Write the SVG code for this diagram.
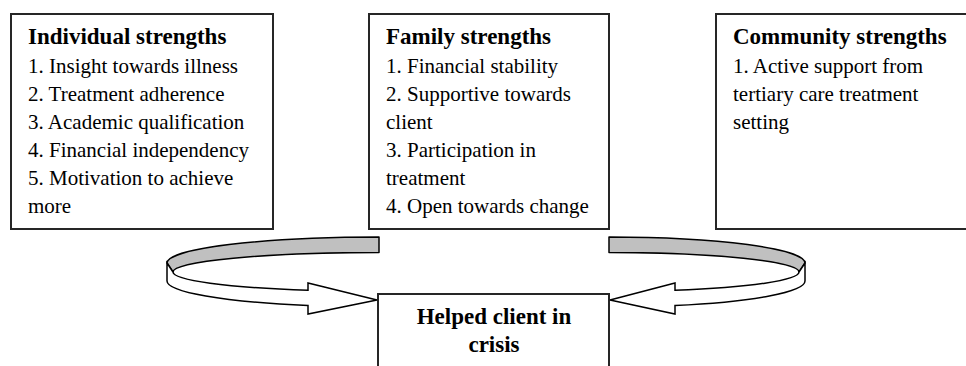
<svg xmlns="http://www.w3.org/2000/svg" width="966" height="366" viewBox="0 0 966 366">
  <style>
    .box { fill: #ffffff; stroke: #262626; stroke-width: 2; }
    .head { font-family: "Liberation Serif", "Times New Roman", serif; font-size: 23px; font-weight: bold; fill: #000; }
    .item { font-family: "Liberation Serif", "Times New Roman", serif; font-size: 21px; fill: #000; }
    .back { fill: #c0c0c0; stroke: #000; stroke-width: 1.5; stroke-linejoin: round; }
    .front { fill: #ffffff; stroke: #000; stroke-width: 1.5; stroke-linejoin: miter; }
  </style>
  <rect width="966" height="366" fill="#ffffff"/>

  <g id="individual">
    <rect class="box" x="11" y="14" width="262" height="215"/>
    <text class="head" x="28" y="44">Individual strengths</text>
    <text class="item" x="28" y="73">1. Insight towards illness</text>
    <text class="item" x="28" y="101">2. Treatment adherence</text>
    <text class="item" x="28" y="129">3. Academic qualification</text>
    <text class="item" x="28" y="157">4. Financial independency</text>
    <text class="item" x="28" y="185">5. Motivation to achieve</text>
    <text class="item" x="28" y="213">more</text>
  </g>

  <g id="family">
    <rect class="box" x="369" y="14" width="240" height="215"/>
    <text class="head" x="386" y="44">Family strengths</text>
    <text class="item" x="386" y="73">1. Financial stability</text>
    <text class="item" x="386" y="101">2. Supportive towards</text>
    <text class="item" x="386" y="129">client</text>
    <text class="item" x="386" y="157">3. Participation in</text>
    <text class="item" x="386" y="185">treatment</text>
    <text class="item" x="386" y="213">4. Open towards change</text>
  </g>

  <g id="community">
    <rect class="box" x="716" y="14" width="262" height="215"/>
    <text class="head" x="733" y="44">Community strengths</text>
    <text class="item" x="733" y="73">1. Active support from</text>
    <text class="item" x="733" y="101">tertiary care treatment</text>
    <text class="item" x="733" y="129">setting</text>
  </g>

  <g id="outcome">
    <rect class="box" x="378" y="294" width="231" height="90"/>
    <text class="head" x="494" y="324" text-anchor="middle">Helped client in</text>
    <text class="head" x="494" y="352" text-anchor="middle">crisis</text>
  </g>

  <g id="connectors">
    <!-- curved ribbon arrow from the left, wrapping round to the outcome box -->
    <g id="arrow-left">
      <path class="back" d="M379,237 A212,26 0 0 0 167,263 L173,272 A206,19.5 0 0 1 379,252.5 Z"/>
      <path class="front" d="M167,263 L173,272 A206,19.5 0 0 0 308,290.3 L308,283 L377,300 L308,314 L308,305.5 A212,26 0 0 1 167,281 Z"/>
    </g>
    <!-- curved ribbon arrow from the right, wrapping round to the outcome box -->
    <g id="arrow-right">
      <path class="back" d="M609,237 A196,26 0 0 1 805,263 L799,272 A190,19.5 0 0 0 609,252.5 Z"/>
      <path class="front" d="M805,263 L799,272 A190,19.5 0 0 1 675,290.3 L675,283 L610,300 L675,314 L675,305.5 A196,26 0 0 0 805,281 Z"/>
    </g>
  </g>
</svg>
